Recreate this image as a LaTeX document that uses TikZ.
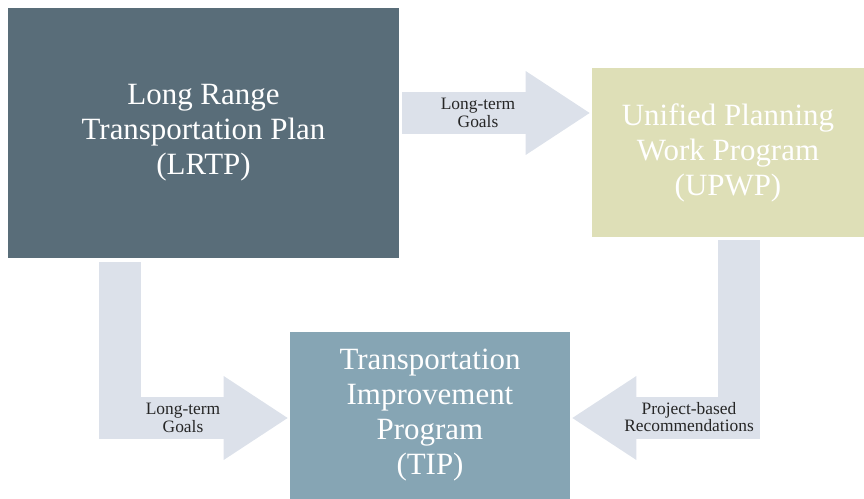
\documentclass[tikz,border=0pt]{standalone}
\usepackage{fontspec}
\setmainfont{Liberation Serif}
\usepackage{tikz}
\usetikzlibrary{shapes}
\usetikzlibrary{positioning}
\usetikzlibrary{arrows.meta}
\definecolor{lrtpcol}{HTML}{596D79}
\definecolor{upwpcol}{HTML}{DEDFB7}
\definecolor{tipcol}{HTML}{86A5B4}
\definecolor{flowcol}{HTML}{DCE1EA}
\tikzset{
    planbox/.style = {rectangle, draw=none, align=center, text=white, inner sep=0pt,
                      font=\fontsize{17.6}{19.9}\selectfont},
    planlrtp/.style = {planbox, fill=lrtpcol, minimum width=78.2mm, minimum height=50mm},
    planupwp/.style = {planbox, fill=upwpcol, minimum width=54.4mm, minimum height=33.8mm},
    plantip/.style = {planbox, fill=tipcol, minimum width=56mm, minimum height=33.4mm},
    flow/.style = {draw=flowcol, line width=8.4mm, line join=miter,
                   -{Triangle[length=12.8mm, width=16.8mm, line width=0pt]}},
    flowlabel/.style = {align=center, inner sep=0pt, text=black!85,
                        font=\fontsize{9.9}{10}\selectfont}
}
\begin{document}
\begin{tikzpicture}[x=0.2mm, y=-0.2mm]
\useasboundingbox (0,0) rectangle (864,499);
%
\node[planlrtp] at (203.5,133) (lrtp) {Long Range\\Transportation Plan\\(LRTP)};
\node[planupwp] at (728,152.5) (upwp) {Unified Planning\\Work Program\\(UPWP)};
\node[plantip] at (430,415.5) (tip) {Transportation\\Improvement\\Program\\(TIP)};
%
\draw[flow] ([shift={(3,-20)}]lrtp.east) -- ([shift={(-2,-39.5)}]upwp.west);
\draw[flow] ([shift={(-83.5,4)}]lrtp.south) |- ([shift={(-2,2.5)}]tip.west);
\draw[flow] ([shift={(11,3)}]upwp.south) |- ([shift={(2,2.5)}]tip.east);
%
\node[flowlabel] at (478,113) (g1) {Long-term\\Goals};
\node[flowlabel] at (183,418) (g2) {Long-term\\Goals};
\node[flowlabel] at (689,417) (rec) {Project-based\\Recommendations};
\end{tikzpicture}
\end{document}
